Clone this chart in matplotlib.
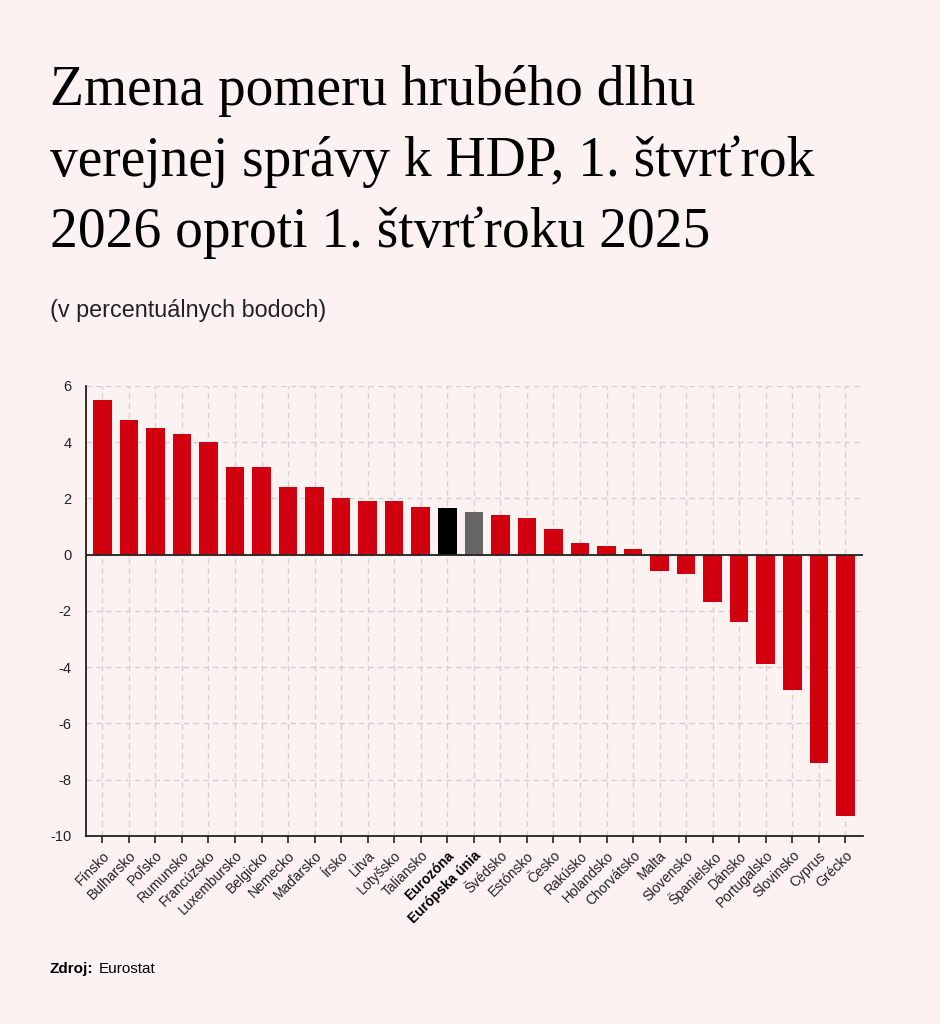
import matplotlib
matplotlib.use("Agg")
import matplotlib.pyplot as plt
import numpy as np

countries = ["Fínsko", "Bulharsko", "Poľsko", "Rumunsko", "Francúzsko", "Luxembursko",
             "Belgicko", "Nemecko", "Maďarsko", "Írsko", "Litva", "Lotyšsko", "Taliansko",
             "Eurozóna", "Európska únia", "Švédsko", "Estónsko", "Česko", "Rakúsko",
             "Holandsko", "Chorvátsko", "Malta", "Slovensko", "Španielsko", "Dánsko",
             "Portugalsko", "Slovinsko", "Cyprus", "Grécko"]
values = [5.5, 4.8, 4.5, 4.3, 4.0, 3.1, 3.1, 2.4, 2.4, 2.0, 1.9, 1.9, 1.7,
          1.65, 1.5, 1.4, 1.3, 0.9, 0.4, 0.3, 0.2, -0.6, -0.7, -1.7, -2.4,
          -3.9, -4.8, -7.4, -9.3]
highlight = {"Eurozóna": "#000000", "Európska únia": "#666666"}
yticks = [-10, -8, -6, -4, -2, 0, 2, 4, 6]

BG = "#fdf2f2"
RED = "#d2000f"

fig = plt.figure(figsize=(9.4, 10.24), dpi=100, facecolor=BG)
ax = fig.add_axes([0.0912, 0.1836, 0.827, 0.4397], facecolor=BG)

x = np.arange(len(countries))
colors = [highlight.get(c, RED) for c in countries]
ax.bar(x, values, width=0.7, color=colors, zorder=3)
ax.axhline(0, color="#222222", lw=1.3, zorder=4)

ax.set_ylim(-10, 6)
ax.set_xlim(-0.625, len(countries) - 1 + 0.67)
ax.set_yticks(yticks)
ax.set_yticklabels([str(v) for v in yticks], fontsize=10.5, family="Liberation Sans")
ax.set_xticks(x)
ax.set_xticklabels(countries, rotation=45, ha="right", rotation_mode="anchor",
                   fontsize=10, family="Liberation Sans", color="#222222")
for lbl in ax.get_xticklabels():
    if lbl.get_text() in highlight:
        lbl.set_fontweight("bold")
        lbl.set_color("#000000")

ax.grid(True, color="#d6d1d1", linestyle=(0, (4, 3)), lw=1.0, zorder=0)
ax.tick_params(axis="y", length=0, pad=10, colors="#222222")
ax.tick_params(axis="x", length=5, width=1.2, color="#222222", pad=4)
for s in ["top", "right"]:
    ax.spines[s].set_visible(False)
ax.spines["left"].set_color("#222222")
ax.spines["left"].set_linewidth(1.3)
ax.spines["bottom"].set_color("#222222")
ax.spines["bottom"].set_linewidth(1.3)

title_lines = ["Zmena pomeru hrubého dlhu",
               "verejnej správy k HDP, 1. štvrťrok",
               "2026 oproti 1. štvrťroku 2025"]
for i, line in enumerate(title_lines):
    fig.text(50 / 940, 1 - (105 + 71 * i) / 1024, line, fontsize=40,
             family="Liberation Serif", color="#000000", va="baseline", ha="left")

fig.text(50 / 940, 1 - 316.7 / 1024, "(v percentuálnych bodoch)", fontsize=16.8,
         family="Liberation Sans", color="#222222", va="baseline", ha="left")

fig.text(50 / 940, 1 - 973 / 1024, "Zdroj:", fontsize=11, fontweight="bold",
         family="Liberation Sans", color="#000000", va="baseline", ha="left")
fig.text(99 / 940, 1 - 973 / 1024, "Eurostat", fontsize=11,
         family="Liberation Sans", color="#000000", va="baseline", ha="left")

fig.savefig("out.png", dpi=100, facecolor=BG)
